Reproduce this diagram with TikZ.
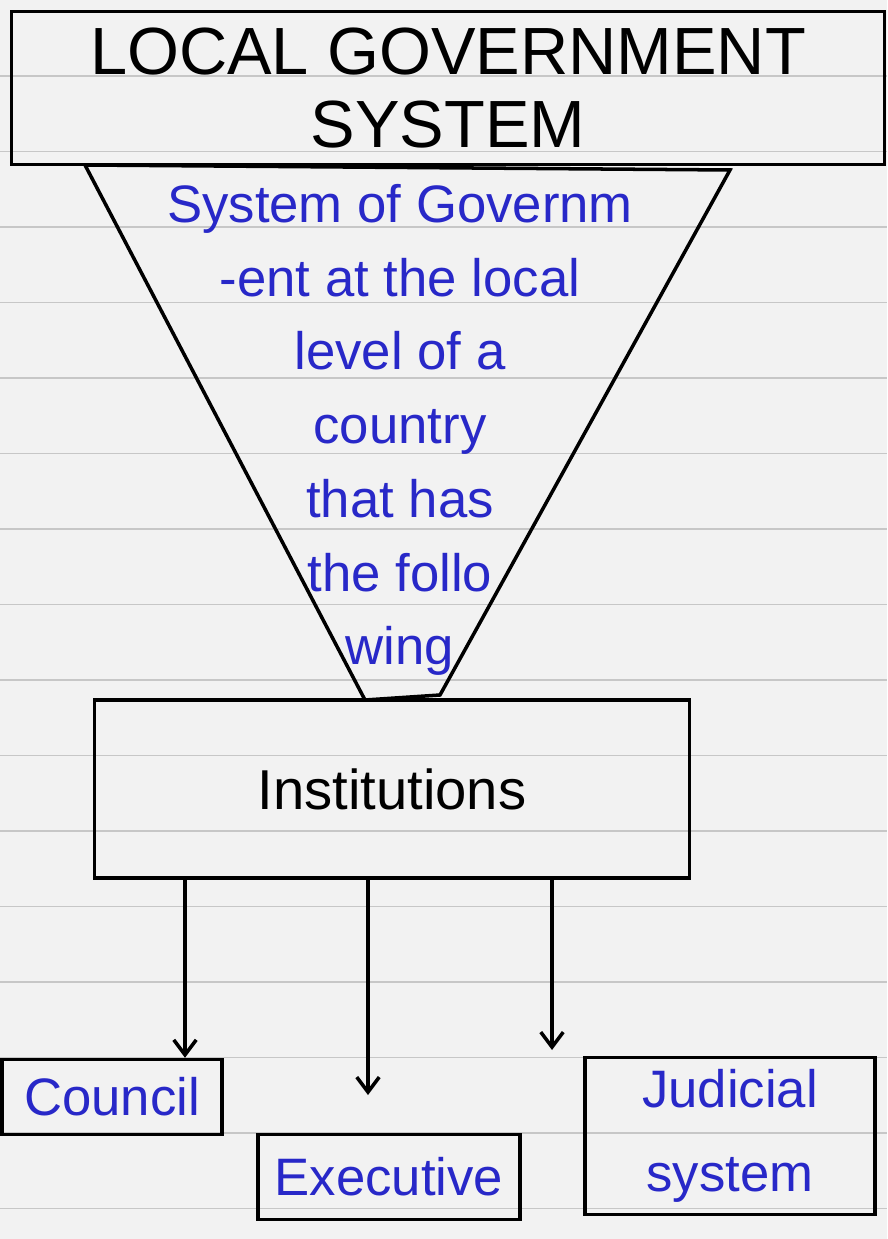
\documentclass[tikz,border=0pt]{standalone}
\usepackage{fontspec}
\setmainfont{Liberation Sans}
\usepackage{tikz}
\usetikzlibrary{arrows.meta}
\definecolor{ink}{RGB}{40,40,200}
\tikzset{
  box/.style={draw, rectangle, line width=2pt, inner sep=0pt},
  inktext/.style={text=ink, font=\fontsize{30}{42}\selectfont},
  >={Straight Barb[length=3mm, width=4.5mm]},
}

\begin{document}
\begin{tikzpicture}[x=0.02cm, y=-0.02cm, line width=2pt]
\fill[black!5] (0,0) rectangle (887,1239);
\useasboundingbox (0,0) rectangle (887,1239);
% paper lines
\foreach \k in {-2,...,13}
  \draw[black!22, line width=1pt] (0,227+75.5*\k) -- (887,227+75.5*\k);

\node (title) [box, minimum width=17.46cm, minimum height=3.06cm, align=center, font=\fontsize{38}{42}\selectfont] at (448,88) {LOCAL GOVERNMENT\\SYSTEM};

% funnel
\draw (85,165) -- (730,170) -- (440,695) -- (365,700) -- cycle;
\node (desc) [inktext, align=center] at (400,430) {System of Governm\\-ent at the local\\level of a\\country\\that has\\the follo\\wing};

\node (inst) [box, minimum width=11.9cm, minimum height=3.56cm, font=\fontsize{32}{38}\selectfont] at (392,789) {Institutions};

\node (council) [box, inktext, minimum width=4.4cm, minimum height=1.5cm] at (112,1097) {Council};
\node (exec) [box, inktext, minimum width=5.24cm, minimum height=1.7cm] at (389,1177) {Executive};
\node (judic) [box, inktext, align=center, minimum width=5.8cm, minimum height=3.14cm, font=\fontsize{30}{48}\selectfont] at (730,1136) {Judicial\\system};

% Arrows
\coordinate (endE) at (368,1095);
\coordinate (endJ) at (552,1050);
\draw[->] (inst.south -| 185,0) -- (council.north -| 185,0);
\draw[->] (inst.south -| endE) -- (endE);
\draw[->] (inst.south -| endJ) -- (endJ);
\end{tikzpicture}
\end{document}
